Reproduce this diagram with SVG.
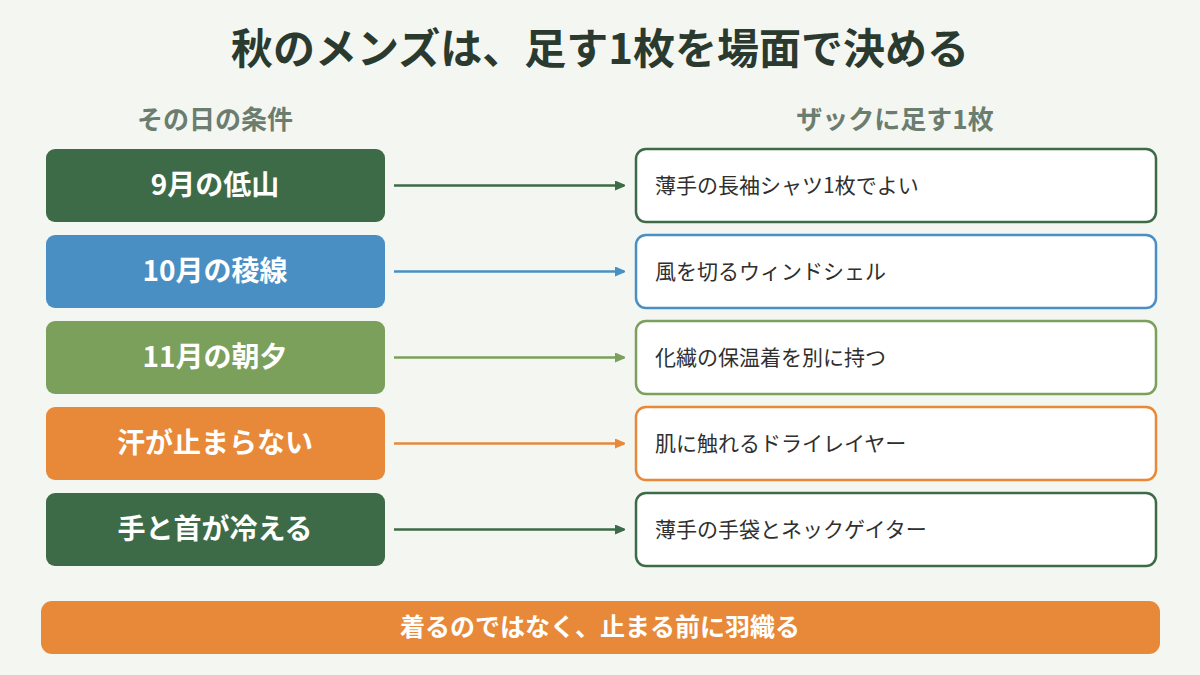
<svg xmlns="http://www.w3.org/2000/svg" width="1200" height="675" viewBox="0 0 1200 675">
<defs>
<style>
.t{font-family:"Noto Sans CJK JP","Noto Sans",sans-serif}
.title{font-size:42px;font-weight:bold;fill:#2b3a2f;text-anchor:middle}
.hdr{font-size:26px;font-weight:bold;fill:#6b7d6e;text-anchor:middle}
.lt{font-size:28px;font-weight:bold;fill:#ffffff;text-anchor:middle}
.rt{font-size:21px;fill:#2f2f2f}
.rb{fill:#ffffff;stroke-width:2.5}
.ft{font-size:25px;font-weight:bold;fill:#ffffff;text-anchor:middle}
</style>
<marker id="mg" markerWidth="10" markerHeight="10" refX="9" refY="5" orient="auto" markerUnits="userSpaceOnUse"><path d="M0,0 L12,5 L0,10 z" fill="#3d6b47"/></marker>
<marker id="mb" markerWidth="10" markerHeight="10" refX="9" refY="5" orient="auto" markerUnits="userSpaceOnUse"><path d="M0,0 L12,5 L0,10 z" fill="#4a8fc4"/></marker>
<marker id="ml" markerWidth="10" markerHeight="10" refX="9" refY="5" orient="auto" markerUnits="userSpaceOnUse"><path d="M0,0 L12,5 L0,10 z" fill="#7ba05b"/></marker>
<marker id="mo" markerWidth="10" markerHeight="10" refX="9" refY="5" orient="auto" markerUnits="userSpaceOnUse"><path d="M0,0 L12,5 L0,10 z" fill="#e8893a"/></marker>
</defs>
<rect width="1200" height="675" fill="#f4f6f2"/>
<text class="t title" x="600" y="64">秋のメンズは、足す1枚を場面で決める</text>
<text class="t hdr" x="215" y="129">その日の条件</text>
<text class="t hdr" x="895" y="129">ザックに足す1枚</text>

<g id="l1"><rect x="46" y="149" width="339" height="73" rx="9" fill="#3d6b47"/><text class="t lt" x="215" y="195">9月の低山</text></g>
<g id="l2"><rect x="46" y="235" width="339" height="73" rx="9" fill="#4a8fc4"/><text class="t lt" x="215" y="281">10月の稜線</text></g>
<g id="l3"><rect x="46" y="321" width="339" height="73" rx="9" fill="#7ba05b"/><text class="t lt" x="215" y="367">11月の朝夕</text></g>
<g id="l4"><rect x="46" y="407" width="339" height="73" rx="9" fill="#e8893a"/><text class="t lt" x="215" y="453">汗が止まらない</text></g>
<g id="l5"><rect x="46" y="493" width="339" height="73" rx="9" fill="#3d6b47"/><text class="t lt" x="215" y="539">手と首が冷える</text></g>

<g id="r1"><rect class="rb" x="636" y="149" width="520" height="73" rx="10" stroke="#3d6b47"/><text class="t rt" x="655" y="193">薄手の長袖シャツ1枚でよい</text></g>
<g id="r2"><rect class="rb" x="636" y="235" width="520" height="73" rx="10" stroke="#4a8fc4"/><text class="t rt" x="655" y="279">風を切るウィンドシェル</text></g>
<g id="r3"><rect class="rb" x="636" y="321" width="520" height="73" rx="10" stroke="#7ba05b"/><text class="t rt" x="655" y="365">化繊の保温着を別に持つ</text></g>
<g id="r4"><rect class="rb" x="636" y="407" width="520" height="73" rx="10" stroke="#e8893a"/><text class="t rt" x="655" y="451">肌に触れるドライレイヤー</text></g>
<g id="r5"><rect class="rb" x="636" y="493" width="520" height="73" rx="10" stroke="#3d6b47"/><text class="t rt" x="655" y="537">薄手の手袋とネックゲイター</text></g>

<g id="connectors" stroke-width="2.5" fill="none">
<line x1="394" y1="185.5" x2="624" y2="185.5" stroke="#3d6b47" marker-end="url(#mg)"/>
<line x1="394" y1="271.5" x2="624" y2="271.5" stroke="#4a8fc4" marker-end="url(#mb)"/>
<line x1="394" y1="357.5" x2="624" y2="357.5" stroke="#7ba05b" marker-end="url(#ml)"/>
<line x1="394" y1="443.5" x2="624" y2="443.5" stroke="#e8893a" marker-end="url(#mo)"/>
<line x1="394" y1="529.5" x2="624" y2="529.5" stroke="#3d6b47" marker-end="url(#mg)"/>
</g>

<g id="footer"><rect x="41" y="601" width="1119" height="53" rx="11" fill="#e8893a"/><text class="t ft" x="600" y="636">着るのではなく、止まる前に羽織る</text></g>
</svg>
